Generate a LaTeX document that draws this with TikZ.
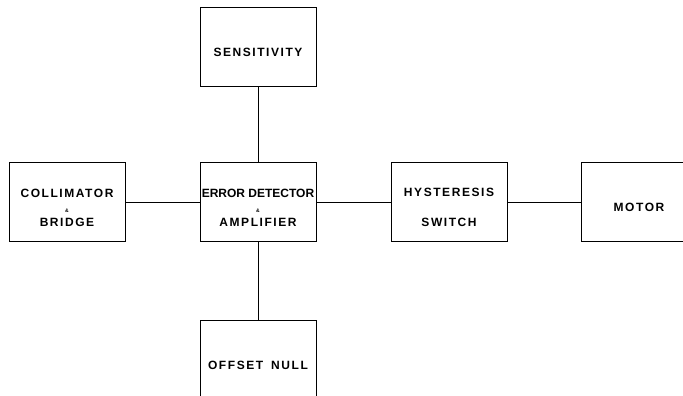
\documentclass[tikz,border=0pt]{standalone}
\usepackage{fontspec}
\setmainfont{Liberation Sans}
\newfontfamily\boxfont{Liberation Sans}[LetterSpace=13]
\usetikzlibrary{positioning}

\newcommand{\up}{\rule{0pt}{19pt}}
\newcommand{\amp}{\\[1pt]{\fontsize{5}{5}\selectfont\&}\\[-1pt]}

\begin{document}
\begin{tikzpicture}[
    x=1pt,y=1pt,
    node distance=74pt,
    blk/.style={draw,line width=1pt,minimum width=116pt,minimum height=79pt,
      inner sep=0pt,align=center,font=\boxfont\bfseries\fontsize{12}{14.5}\selectfont},
    wire/.style={line width=0.7pt}
  ]
  \useasboundingbox (0,0) rectangle (683,396);
  \node[blk] (err) at (258,193.5) {\up{\addfontfeature{LetterSpace=0}ERROR DETECTOR}\amp AMPLIFIER};
  \node[blk,left=of err] (col) {\up COLLIMATOR\amp BRIDGE};
  \node[blk,right=of err] (hys) {\up HYSTERESIS\\[15.5pt]SWITCH};
  \node[blk,right=73pt of hys] (mot) {\up MOTOR};
  \node[blk,above=75pt of err] (sen) {\up SENSITIVITY};
  \node[blk,below=78pt of err] (off) {\up OFFSET\hspace{8pt}NULL};
  \draw[wire] (col) -- (err);
  \draw[wire] (err) -- (hys);
  \draw[wire] (hys) -- (mot);
  \draw[wire] (err) -- (sen);
  \draw[wire] (err) -- (off);
\end{tikzpicture}
\end{document}
